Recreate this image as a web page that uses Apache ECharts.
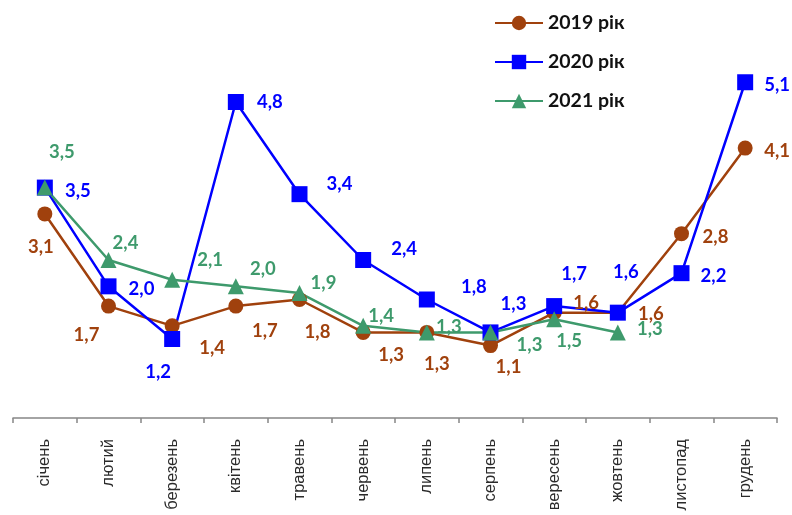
<!DOCTYPE html>
<html><head><meta charset="utf-8">
<script src="https://cdn.jsdelivr.net/npm/echarts@6/dist/echarts.min.js"></script>
<style>html,body{margin:0;padding:0;background:#fff}#c{width:792px;height:515px}</style>
</head><body><div id="c"></div>
<script>
const months = ['січень','лютий','березень','квітень','травень','червень','липень','серпень','вересень','жовтень','листопад','грудень'];
const seriesNames = ['2019 рік','2020 рік','2021 рік'];
const values2019 = [3.1,1.7,1.4,1.7,1.8,1.3,1.3,1.1,1.6,1.6,2.8,4.1];
const values2020 = [3.5,2.0,1.2,4.8,3.4,2.4,1.8,1.3,1.7,1.6,2.2,5.1];
const values2021 = [3.5,2.4,2.1,2.0,1.9,1.4,1.3,1.3,1.5,1.3];

// label placement offsets (label centre relative to point)
const off2019 = [[-4,33],[-22,29],[40,22],[29,25],[18,33],[28,23],[10,32],[18,21],[32,-10],[33,1],[34,3],[32,3]];
const off2020 = [[33,3],[33,3],[-14,33],[34,0],[40,-10],[41,-11],[47,-12],[23,-28],[20,-32],[8,-41],[32,3],[32,3]];
const off2021 = [[17,-36],[17,-17],[38,-20],[27,-17],[24,-10],[18,-10],[22,-5],[39,13],[15,22],[32,-3]];

const colors = ['#A0410D','#0000FF','#3E9A6C'];
const fmt = v => v.toFixed(1).replace('.', ',');

function build(vals, offs){
  return vals.map((v,i)=>({value:v, label:{offset:offs[i]}}));
}
function mk(name, vals, offs, color, symbol, size){
  return {
    name, type:'line', data:build(vals,offs),
    symbol, symbolSize:size,
    lineStyle:{color, width:2.5},
    itemStyle:{color},
    label:{show:true, position:'inside', color, fontFamily:'Lato', fontWeight:'bold', fontSize:18.5,
      formatter:p=>fmt(p.value)},
    emphasis:{disabled:true},
    z: 2
  };
}
const chart = echarts.init(document.getElementById('c'), null, {renderer:'canvas'});
chart.setOption({
  animation:false,
  backgroundColor:'#fff',
  grid:{left:13, right:15, top:23, bottom:97, containLabel:false},
  legend:{
    orient:'vertical', left:489, top:8, itemGap:19, itemWidth:48, itemHeight:18,
    textStyle:{fontFamily:'Lato', fontWeight:'bold', fontSize:19.5, color:'#111'},
    data:seriesNames
  },
  xAxis:{
    type:'category', data:months, boundaryGap:true,
    axisLine:{lineStyle:{color:'#868686', width:1.5}},
    axisTick:{show:true, length:5, lineStyle:{color:'#868686', width:1.5}},
    axisLabel:{rotate:90, fontFamily:'Liberation Sans', fontSize:16.5, color:'#2a2a2a', margin:21, interval:0}
  },
  yAxis:{type:'value', min:0, max:6, show:false, splitLine:{show:false}},
  series:[
    mk(seriesNames[0], values2019, off2019, colors[0], 'circle', 15),
    mk(seriesNames[1], values2020, off2020, colors[1], 'rect', 16),
    mk(seriesNames[2], values2021, off2021, colors[2], 'triangle', 16)
  ]
});
</script></body></html>
